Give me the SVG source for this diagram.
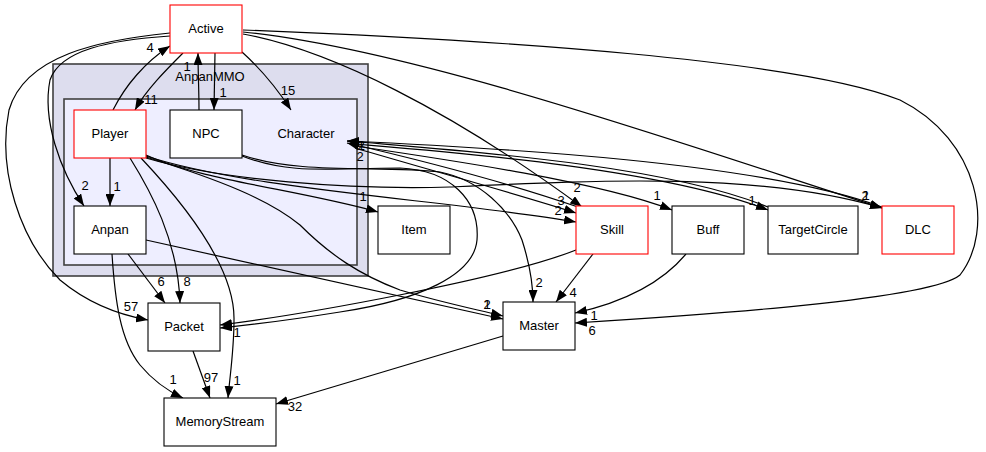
<svg xmlns="http://www.w3.org/2000/svg" width="986" height="452" viewBox="0 0 986 452">
<defs>
<style>
.bg{fill:#ffffff}
.c1{fill:#ddddee;stroke:#404040;stroke-width:1.6}
.c2{fill:#eeeeff;stroke:#404040;stroke-width:1.6}
.n{fill:#ffffff;stroke:#000000;stroke-width:1.1}
.r{fill:#ffffff;stroke:#ff0000;stroke-width:1.1}
text{font-family:"Liberation Sans",Arial,sans-serif;font-size:13px;fill:#000}
.t{text-anchor:middle}
.e{fill:none;stroke:#000;stroke-width:1.2;marker-end:url(#ah)}
.l{font-size:13px;text-anchor:middle}
</style>
<marker id="ah" viewBox="0 0 12 9" refX="12" refY="4.5" markerWidth="12" markerHeight="9" orient="auto" markerUnits="userSpaceOnUse"><path d="M0,0 L12,4.5 L0,9 z" fill="#000"/></marker>
</defs>
<rect class="bg" x="0" y="0" width="986" height="452"/>
<g id="cluster-AnpanMMO">
<rect class="c1" x="53" y="64" width="315" height="212"/>
<text class="t" x="210" y="81">AnpanMMO</text>
</g>
<g id="cluster-Character">
<rect class="c2" x="64" y="99" width="293" height="166"/>
<text class="t" x="306" y="138">Character</text>
</g>
<g id="edges">
<path class="e" d="M183,53 C166,70 146,90 135,110"/>
<path class="e" d="M113,110 C125,86 145,62 170,46"/>
<path class="e" d="M199,110 C199,90 198,72 198,53"/>
<path class="e" d="M215,53 L214,110"/>
<path class="e" d="M242,52 C262,70 278,90 291,110"/>
<path class="e" d="M243,34 C330,50 450,110 582,207"/>
<path class="e" d="M243,32 C420,50 700,150 882,208"/>
<path class="e" d="M243,30 C500,40 800,60 900,100 C980,140 995,230 960,275 C930,300 700,315 575,323"/>
<path class="e" d="M170,36 C110,40 60,50 50,80 C42,120 60,170 84,206"/>
<path class="e" d="M170,33 C100,40 25,55 9,110 C-3,170 20,240 60,280 C90,305 120,315 148,320"/>
<path class="e" d="M110,158 L110,206"/>
<path class="e" d="M130,158 C150,190 178,240 180,303"/>
<path class="e" d="M141,158 C190,210 235,270 234,320 C234,350 230,375 228,398"/>
<path class="e" d="M146,155 C200,180 300,190 378,212"/>
<path class="e" d="M146,156 C250,190 450,200 576,222"/>
<path class="e" d="M146,157 C220,180 270,200 300,225 C330,255 360,275 400,290 C440,302 470,308 503,316"/>
<path class="e" d="M146,158 C220,180 350,190 450,187 C600,180 760,172 882,208"/>
<path class="e" d="M146,240 L503,319"/>
<path class="e" d="M128,254 L165,303"/>
<path class="e" d="M112,254 C115,300 120,340 140,365 C155,383 170,392 183,398"/>
<path class="e" d="M193,351 L210,398"/>
<path class="e" d="M503,336 L276,404"/>
<path class="e" d="M593,254 L556,302"/>
<path class="e" d="M686,254 C660,285 620,303 575,313"/>
<path class="e" d="M242,155 C300,175 380,165 440,172 C480,180 510,210 522,240 C530,265 533,285 533,302"/>
<path class="e" d="M242,156 C290,175 330,168 400,168 C450,170 480,200 477,240 C474,275 420,300 340,312 C290,320 250,325 220,328"/>
<path class="e" d="M576,250 C500,280 300,315 220,325"/>
<path class="e" d="M355,146 C450,160 600,182 672,210"/>
<path class="e" d="M355,144 C450,152 660,168 768,210"/>
<path class="e" d="M768,207 C660,163 450,150 347,141"/>
<path class="e" d="M882,207 C760,162 500,148 347,141"/>
<path class="e" d="M578,207 C500,180 420,160 347,143"/>
<path class="e" d="M355,148 C430,170 520,195 576,213"/>
</g>
<g id="edge-labels">
<text class="l" x="151" y="104">11</text>
<text class="l" x="150" y="52">4</text>
<text class="l" x="187" y="71">1</text>
<text class="l" x="223" y="97">1</text>
<text class="l" x="288" y="95">15</text>
<text class="l" x="577" y="192">2</text>
<text class="l" x="865" y="200">2</text>
<text class="l" x="866" y="200">1</text>
<text class="l" x="592" y="335">6</text>
<text class="l" x="85" y="190">2</text>
<text class="l" x="131" y="311">57</text>
<text class="l" x="117" y="191">1</text>
<text class="l" x="187" y="286">8</text>
<text class="l" x="237" y="385">1</text>
<text class="l" x="363" y="201">1</text>
<text class="l" x="561" y="205">3</text>
<text class="l" x="558" y="215">2</text>
<text class="l" x="487" y="309">1</text>
<text class="l" x="487" y="309">2</text>
<text class="l" x="161" y="286">6</text>
<text class="l" x="173" y="384">1</text>
<text class="l" x="211" y="382">97</text>
<text class="l" x="295" y="411">32</text>
<text class="l" x="573" y="297">4</text>
<text class="l" x="594" y="320">1</text>
<text class="l" x="539" y="287">2</text>
<text class="l" x="237" y="337">1</text>
<text class="l" x="657" y="200">1</text>
<text class="l" x="752" y="205">1</text>
<text class="l" x="361" y="150">1</text>
<text class="l" x="361" y="150">2</text>
<text class="l" x="360" y="161">2</text>
</g>
<g id="node-Active"><rect class="r" x="170" y="5" width="72" height="48"/><text class="t" x="206" y="33">Active</text></g>
<g id="node-Player"><rect class="r" x="74" y="110" width="72" height="48"/><text class="t" x="110" y="138">Player</text></g>
<g id="node-NPC"><rect class="n" x="170" y="110" width="72" height="48"/><text class="t" x="206" y="138">NPC</text></g>
<g id="node-Anpan"><rect class="n" x="74" y="206" width="72" height="48"/><text class="t" x="110" y="234">Anpan</text></g>
<g id="node-Item"><rect class="n" x="378" y="206" width="72" height="48"/><text class="t" x="414" y="234">Item</text></g>
<g id="node-Skill"><rect class="r" x="576" y="206" width="72" height="48"/><text class="t" x="612" y="234">Skill</text></g>
<g id="node-Buff"><rect class="n" x="672" y="206" width="72" height="48"/><text class="t" x="708" y="234">Buff</text></g>
<g id="node-TargetCircle"><rect class="n" x="768" y="206" width="90" height="48"/><text class="t" x="813" y="234">TargetCircle</text></g>
<g id="node-DLC"><rect class="r" x="882" y="206" width="72" height="48"/><text class="t" x="918" y="234">DLC</text></g>
<g id="node-Packet"><rect class="n" x="148" y="303" width="72" height="48"/><text class="t" x="184" y="331">Packet</text></g>
<g id="node-Master"><rect class="n" x="503" y="302" width="72" height="48"/><text class="t" x="539" y="330">Master</text></g>
<g id="node-MemoryStream"><rect class="n" x="164" y="398" width="112" height="48"/><text class="t" x="220" y="426">MemoryStream</text></g>
</svg>
